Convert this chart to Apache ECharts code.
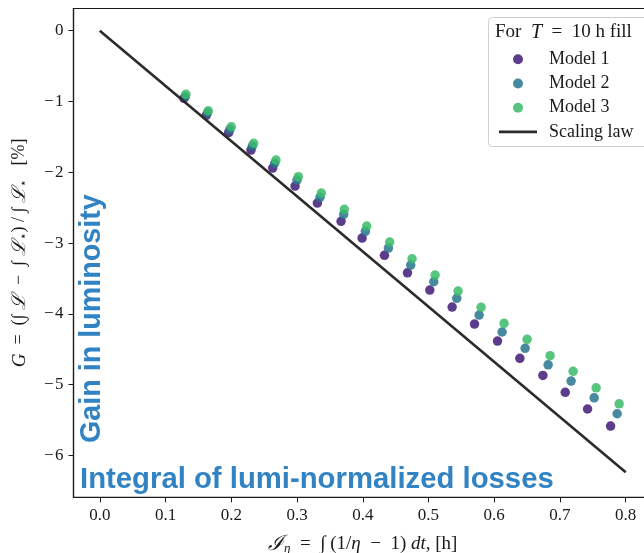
<!DOCTYPE html>
<html>
<head>
<meta charset="utf-8">
<script src="https://cdn.jsdelivr.net/npm/echarts@6/dist/echarts.min.js"></script>
<style>
  html, body { margin: 0; padding: 0; background: #fff; }
  #chart { width: 644px; height: 553px; }
</style>
</head>
<body>
<div id="chart"></div>
<script>
// Integrated lumi-normalized losses I_eta [h] and luminosity gain G [%] per model
const model1X = [0.128, 0.162, 0.196, 0.230, 0.263, 0.297, 0.331, 0.367, 0.399, 0.433,
                 0.468, 0.502, 0.536, 0.570, 0.605, 0.639, 0.674, 0.708, 0.742, 0.777];
const model1Y = [-0.955, -1.196, -1.441, -1.686, -1.940, -2.195, -2.435, -2.693, -2.929, -3.174,
                 -3.420, -3.664, -3.904, -4.145, -4.385, -4.629, -4.870, -5.110, -5.345, -5.586];

const model2X = [0.130, 0.164, 0.198, 0.232, 0.266, 0.300, 0.335, 0.371, 0.404, 0.439,
                 0.473, 0.508, 0.543, 0.577, 0.612, 0.647, 0.682, 0.717, 0.752, 0.787];
const model2Y = [-0.933, -1.159, -1.394, -1.629, -1.874, -2.110, -2.354, -2.594, -2.835, -3.071,
                 -3.311, -3.547, -3.781, -4.017, -4.257, -4.488, -4.720, -4.950, -5.187, -5.412];

const model3X = [0.131, 0.165, 0.200, 0.234, 0.268, 0.302, 0.337, 0.372, 0.406, 0.441,
                 0.475, 0.510, 0.545, 0.580, 0.615, 0.650, 0.685, 0.720, 0.755, 0.790];
const model3Y = [-0.899, -1.131, -1.357, -1.591, -1.827, -2.063, -2.293, -2.524, -2.760, -2.986,
                 -3.222, -3.452, -3.678, -3.908, -4.135, -4.361, -4.592, -4.813, -5.045, -5.271];

// Scaling law end points
const scalingX = [0.0, 0.8];
const scalingY = [0.0, -6.24];

// Tick labels
const xTicks = [0.0, 0.1, 0.2, 0.3, 0.4, 0.5, 0.6, 0.7, 0.8];
const yTicks = [0, -1, -2, -3, -4, -5, -6];

const seriesNames = ['Model 1', 'Model 2', 'Model 3', 'Scaling law'];

const pairs = (xs, ys) => xs.map((x, i) => [x, ys[i]]);

const SERIF = '"Liberation Serif", "DejaVu Serif", serif';
const SANS = '"Liberation Sans", Arial, sans-serif';
const INK = '#1a1a1a';
const LINE = '#2b2b2b';
const BLUE = '#3283c3';

const chart = echarts.init(document.getElementById('chart'), null, { renderer: 'canvas' });

const scatterBase = {
  type: 'scatter',
  symbol: 'circle',
  symbolSize: 9.5,
  z: 2
};

const italic = size => ({ fontFamily: SERIF, fontSize: size, fontStyle: 'italic', color: INK });

chart.setOption({
  animation: false,
  backgroundColor: '#fff',
  grid: {
    left: 73.5, top: 8.5, right: -8, bottom: 55.6,
    outerBoundsMode: 'none',
    containLabel: false,
    show: true, borderColor: INK, borderWidth: 1.2, backgroundColor: 'transparent'
  },
  xAxis: {
    type: 'value',
    min: -0.04, max: 0.84,
    splitLine: { show: false },
    axisLine: { show: true, onZero: false, lineStyle: { color: INK, width: 1.2 } },
    axisTick: { show: true, length: 5, lineStyle: { color: INK, width: 1 }, customValues: xTicks },
    axisLabel: {
      customValues: xTicks,
      margin: 10,
      fontFamily: SERIF, fontSize: 17, color: INK,
      formatter: v => v.toFixed(1)
    },
    name: '{I|ℐ}{sub|η}  =  ∫ (1/{i|η}  −  1) {i|dt}, [h]',
    nameLocation: 'middle',
    nameGap: 36,
    nameTextStyle: {
      fontFamily: SERIF, fontSize: 19, color: INK,
      rich: {
        I: italic(21),
        sub: Object.assign(italic(13), { verticalAlign: 'bottom', padding: [9, 0, 0, 0] }),
        i: italic(19)
      }
    }
  },
  yAxis: {
    type: 'value',
    min: -6.594, max: 0.314,
    splitLine: { show: false },
    axisLine: { show: true, onZero: false, lineStyle: { color: INK, width: 1.2 } },
    axisTick: { show: true, length: 5, lineStyle: { color: INK, width: 1 }, customValues: yTicks },
    axisLabel: {
      customValues: yTicks,
      margin: 10,
      fontFamily: SERIF, fontSize: 17, color: INK,
      formatter: v => (v < 0 ? '\u2212\u200a' + Math.abs(v) : String(v))
    },
    name: '{i|G}  =  (∫ {L|ℒ}  −  ∫ {L|ℒ}{sub|⋆}) / ∫ {L|ℒ}{sub|⋆}   [%]',
    nameLocation: 'middle',
    nameGap: 44,
    nameTextStyle: {
      fontFamily: SERIF, fontSize: 18, color: INK,
      rich: {
        i: italic(19),
        L: italic(19),
        sub: { fontFamily: SERIF, fontSize: 12, color: INK, verticalAlign: 'bottom', padding: [8, 0, 0, 0] }
      }
    }
  },
  legend: {
    orient: 'vertical',
    left: 499, top: 50.3,
    z: 20,
    itemWidth: 38, itemHeight: 10,
    itemGap: 6.2,
    padding: 0,
    data: [
      { name: seriesNames[0] },
      { name: seriesNames[1] },
      { name: seriesNames[2] },
      { name: seriesNames[3], icon: 'path://M0,0 H38 V2.6 H0 Z' }
    ],
    textStyle: { fontFamily: SERIF, fontSize: 18, color: INK, padding: [0, 0, 0, 7] }
  },
  series: [
    Object.assign({}, scatterBase, {
      name: seriesNames[0], data: pairs(model1X, model1Y),
      itemStyle: { color: '#401b78', opacity: 0.85 }
    }),
    Object.assign({}, scatterBase, {
      name: seriesNames[1], data: pairs(model2X, model2Y),
      itemStyle: { color: '#27768d', opacity: 0.85 }
    }),
    Object.assign({}, scatterBase, {
      name: seriesNames[2], data: pairs(model3X, model3Y),
      itemStyle: { color: '#3bbb69', opacity: 0.85 }
    }),
    {
      type: 'line', name: seriesNames[3],
      data: pairs(scalingX, scalingY),
      symbol: 'none', showSymbol: false,
      lineStyle: { color: LINE, width: 2.6 },
      itemStyle: { color: LINE },
      z: 3
    }
  ],
  graphic: [
    // legend frame and title
    {
      type: 'rect', z: 5, silent: true,
      shape: { x: 488.5, y: 17.5, width: 200, height: 129, r: 4 },
      style: { fill: 'rgba(255,255,255,0.85)', stroke: '#cfcfcf', lineWidth: 1 }
    },
    {
      type: 'text', z: 6, silent: true,
      x: 495, y: 32.5,
      style: {
        text: 'For  {t|T}  =  10 h fill',
        font: '19px ' + SERIF,
        fill: INK,
        textAlign: 'left', textVerticalAlign: 'middle',
        rich: { t: { fontFamily: SERIF, fontSize: 20, fontStyle: 'italic', fill: INK } }
      }
    },
    // annotations
    {
      type: 'text', z: 10, silent: true,
      x: 107, y: 443, rotation: Math.PI / 2,
      style: {
        text: 'Gain in luminosity',
        font: 'bold 28.7px ' + SANS,
        fill: BLUE,
        textAlign: 'left', textVerticalAlign: 'bottom'
      }
    },
    {
      type: 'text', z: 10, silent: true,
      x: 80, y: 494,
      style: {
        text: 'Integral of lumi-normalized losses',
        font: 'bold 29.3px ' + SANS,
        fill: BLUE,
        textAlign: 'left', textVerticalAlign: 'bottom'
      }
    }
  ]
});
</script>
</body>
</html>
